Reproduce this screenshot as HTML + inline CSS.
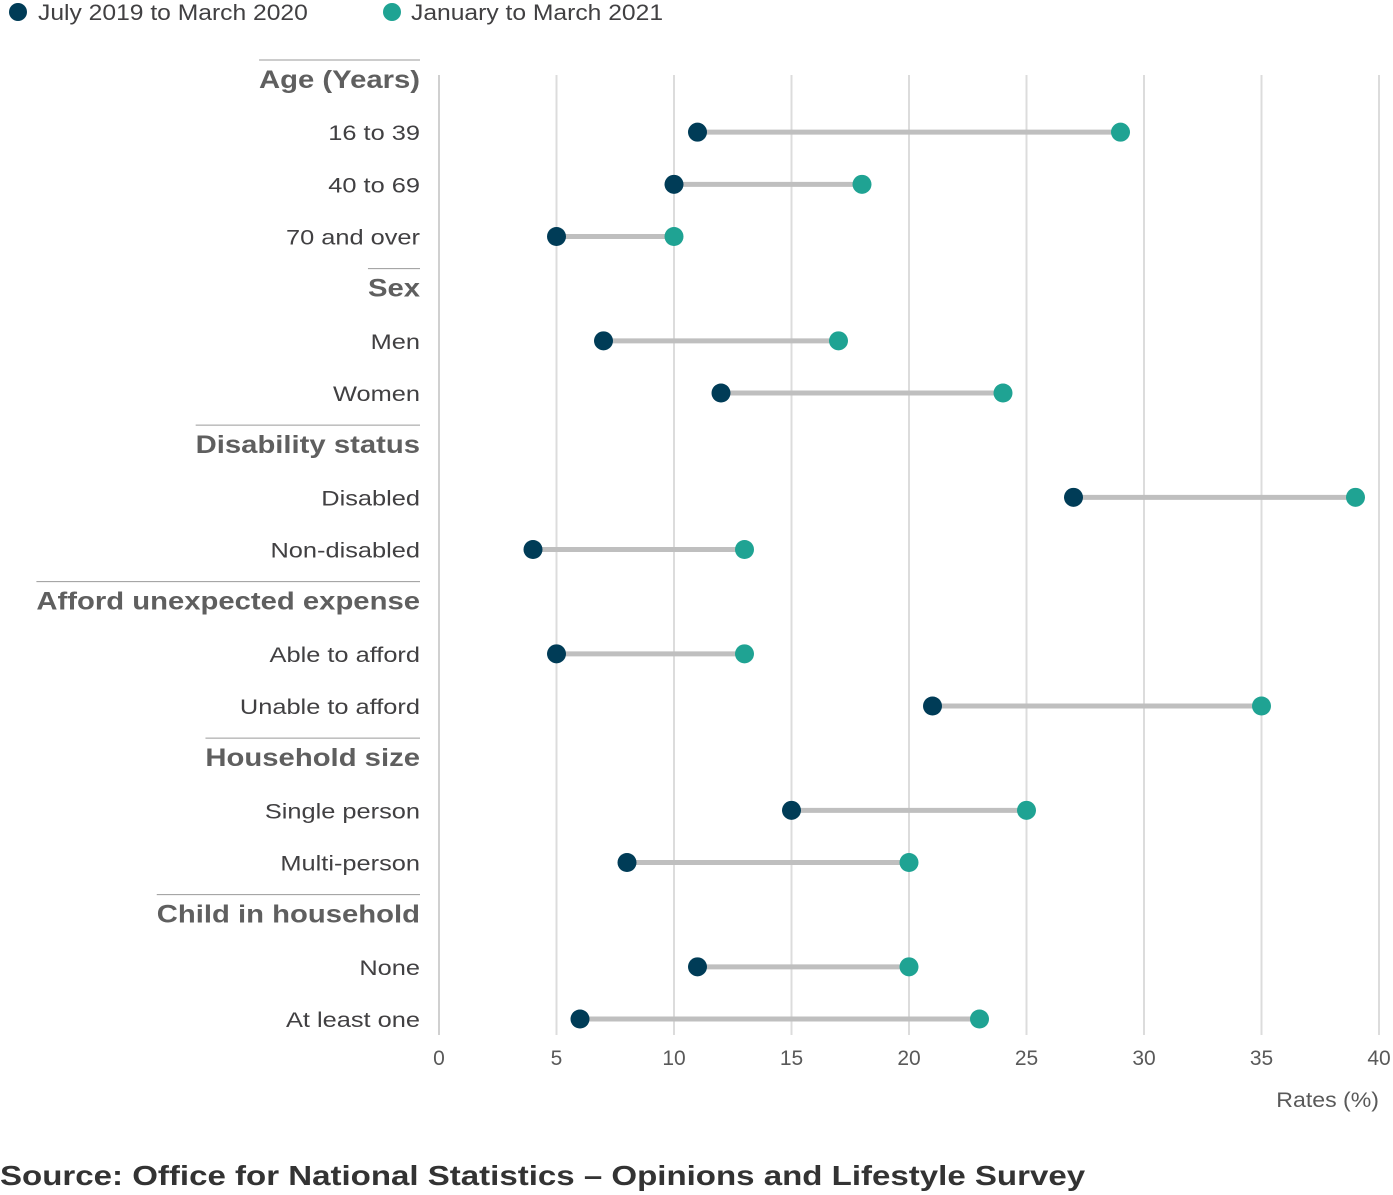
<!DOCTYPE html>
<html><head><meta charset="utf-8">
<style>
html,body{margin:0;padding:0;background:#fff;}
svg{display:block;font-family:"Liberation Sans",sans-serif;}
</style></head>
<body>
<svg id="chart" width="1393" height="1195" viewBox="0 0 1393 1195">
<g>
<circle cx="18" cy="12" r="9" fill="#003c57"/>
<text class="st" data-s="1.12" x="38" y="20" font-size="22" fill="#414042">July 2019 to March 2020</text>
<circle cx="392" cy="12" r="9" fill="#1fa393"/>
<text class="st" data-s="1.12" x="411" y="20" font-size="22" fill="#414042">January to March 2021</text>
</g>
<g id="grid"></g>
<g id="ticks"></g>
<g id="labels"></g>
<g id="marks"></g>
<text class="st" data-s="1.1" x="1379" y="1107" text-anchor="end" font-size="21" fill="#595959">Rates (%)</text>
<text class="st" data-s="1.18" x="0" y="1185" font-size="28" font-weight="bold" fill="#333">Source: Office for National Statistics – Opinions and Lifestyle Survey</text>
</svg>
<script>
const rows = ["Age (Years)","16 to 39","40 to 69","70 and over","Sex","Men","Women","Disability status","Disabled","Non-disabled","Afford unexpected expense","Able to afford","Unable to afford","Household size","Single person","Multi-person","Child in household","None","At least one"];
const isHeader = [1,0,0,0,1,0,0,1,0,0,1,0,0,1,0,0,1,0,0];
const series2019 = [null,11,10,5,null,7,12,null,27,4,null,5,21,null,15,8,null,11,6];
const series2021 = [null,29,18,10,null,17,24,null,39,13,null,13,35,null,25,20,null,20,23];
const xTicks = [0,5,10,15,20,25,30,35,40];

const NS="http://www.w3.org/2000/svg";
const x = v => 439 + v*(1379-439)/40;
const y = i => 80 + i*(1019-80)/18;
function mk(tag, attrs, parent){const e=document.createElementNS(NS,tag);for(const k in attrs)e.setAttribute(k,attrs[k]);parent.appendChild(e);return e;}
function stretch(t,s){const w=t.getComputedTextLength();t.setAttribute('textLength',w*s);t.setAttribute('lengthAdjust','spacingAndGlyphs');return w*s;}
const grid=document.getElementById('grid'),ticks=document.getElementById('ticks'),labels=document.getElementById('labels'),marks=document.getElementById('marks');
xTicks.forEach(t=>{
  const l=mk('line',{x1:x(t),x2:x(t),y1:75,y2:1035,stroke:t===0?'#d0d0d0':'#dcdcdc','stroke-width':2},grid);
  
  
  const tx=mk('text',{x:x(t),y:1065,'text-anchor':'middle','font-size':21,fill:'#595959'},ticks);
  tx.textContent=t;
  
  
});
rows.forEach((r,i)=>{
  const h=isHeader[i];
  const t=mk('text',{x:420,y:y(i)+8,'text-anchor':'end','font-size':h?25:21.5,'font-weight':h?'bold':'normal',fill:h?'#5f5f5f':'#414042'},labels);
  t.textContent=r;
  
  
  const w=stretch(t,h?1.17:1.18);
  if(h){
    const ln=mk('line',{x1:420-w,x2:420,y1:y(i)-20,y2:y(i)-20,stroke:'#9a9a9a','stroke-width':1},labels);
    
    
  } else {
    const a=series2019[i],b=series2021[i];
    const ln=mk('line',{x1:x(a),x2:x(b),y1:y(i),y2:y(i),stroke:'#bfbfbf','stroke-width':5},marks);
    
    
    const c1=mk('circle',{cx:x(a),cy:y(i),r:9.5,fill:'#003c57'},marks);
    
    
    const c2=mk('circle',{cx:x(b),cy:y(i),r:9.5,fill:'#1fa393'},marks);
    
    
  }
});
document.querySelectorAll('.st').forEach(t=>stretch(t,parseFloat(t.getAttribute('data-s'))));
</script>
</body></html>
